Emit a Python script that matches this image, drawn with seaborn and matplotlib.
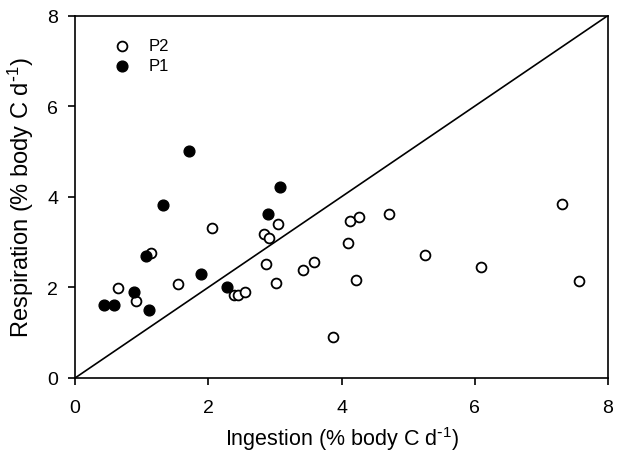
import numpy as np
import matplotlib
matplotlib.use("Agg")
import matplotlib.pyplot as plt
import pandas as pd
import seaborn as sns

#### data ####
p1_ingestion = [0.43, 0.58, 0.89, 1.11, 1.07, 1.32, 1.71, 1.89, 2.28, 2.89, 3.07]
p1_respiration = [1.60, 1.60, 1.90, 1.50, 2.70, 3.81, 5.01, 2.29, 2.00, 3.61, 4.21]

p2_ingestion = [0.65, 0.91, 1.14, 1.55, 2.05, 2.39, 2.45, 2.55, 2.84, 2.91, 3.04,
                2.87, 3.01, 3.42, 3.59, 3.87, 4.12, 4.26, 4.10, 4.22, 4.71, 5.25,
                6.09, 7.31, 7.57]
p2_respiration = [1.98, 1.70, 2.76, 2.08, 3.30, 1.83, 1.84, 1.90, 3.18, 3.08, 3.39,
                  2.52, 2.10, 2.39, 2.57, 0.90, 3.47, 3.55, 2.97, 2.16, 3.61, 2.72,
                  2.46, 3.83, 2.14]

one_to_one = [0, 8]
ticks = [0, 2, 4, 6, 8]

df = pd.concat([
    pd.DataFrame({"ingestion": p2_ingestion, "respiration": p2_respiration, "group": "P2"}),
    pd.DataFrame({"ingestion": p1_ingestion, "respiration": p1_respiration, "group": "P1"}),
])

#### figure settings ####
sns.set_style("ticks")
plt.rcParams["font.family"] = ["Liberation Sans", "DejaVu Sans"]
plt.rcParams["mathtext.default"] = "regular"
plt.rcParams["axes.linewidth"] = 1.2
plt.rcParams["xtick.labelsize"] = 14
plt.rcParams["ytick.labelsize"] = 14
plt.rcParams["text.color"] = "black"
plt.rcParams["axes.labelcolor"] = "black"
plt.rcParams["xtick.color"] = "black"
plt.rcParams["ytick.color"] = "black"

fig = plt.figure(figsize=(6.17, 4.64), dpi=100)
ax = fig.add_axes([0.1216, 0.1832, 0.8638, 0.7812])

ax.plot(one_to_one, one_to_one, color="black", lw=1.2, zorder=1)

sns.scatterplot(data=df[df.group == "P2"], x="ingestion", y="respiration", ax=ax,
                s=50, facecolor="white", edgecolor="black", linewidth=1.3,
                label="P2", zorder=3)
sns.scatterplot(data=df[df.group == "P1"], x="ingestion", y="respiration", ax=ax,
                s=60, color="black", edgecolor="black", linewidth=1,
                label="P1", zorder=3)

ax.set_xlim(0, 8)
ax.set_ylim(0, 8)
ax.set_xticks(ticks)
ax.set_yticks(ticks)
ax.tick_params(direction="out", length=5, width=1.2, colors="black")
ax.tick_params(axis="x", pad=10)
ax.tick_params(axis="y", pad=7)
for sp in ax.spines.values():
    sp.set_visible(True)
    sp.set_color("black")

ax.set_xlabel(r"Ingestion (% body C d$^{\text{-}1}$)", fontsize=15.5, labelpad=6)
ax.set_ylabel(r"Respiration (% body C d$^{\text{-}1}$)", fontsize=17, labelpad=8)

leg = ax.legend(loc="upper left", bbox_to_anchor=(0.045, 0.955), frameon=False,
                fontsize=12, handletextpad=0.55, labelspacing=0.3, borderaxespad=0)

fig.savefig("out.png", dpi=100)
